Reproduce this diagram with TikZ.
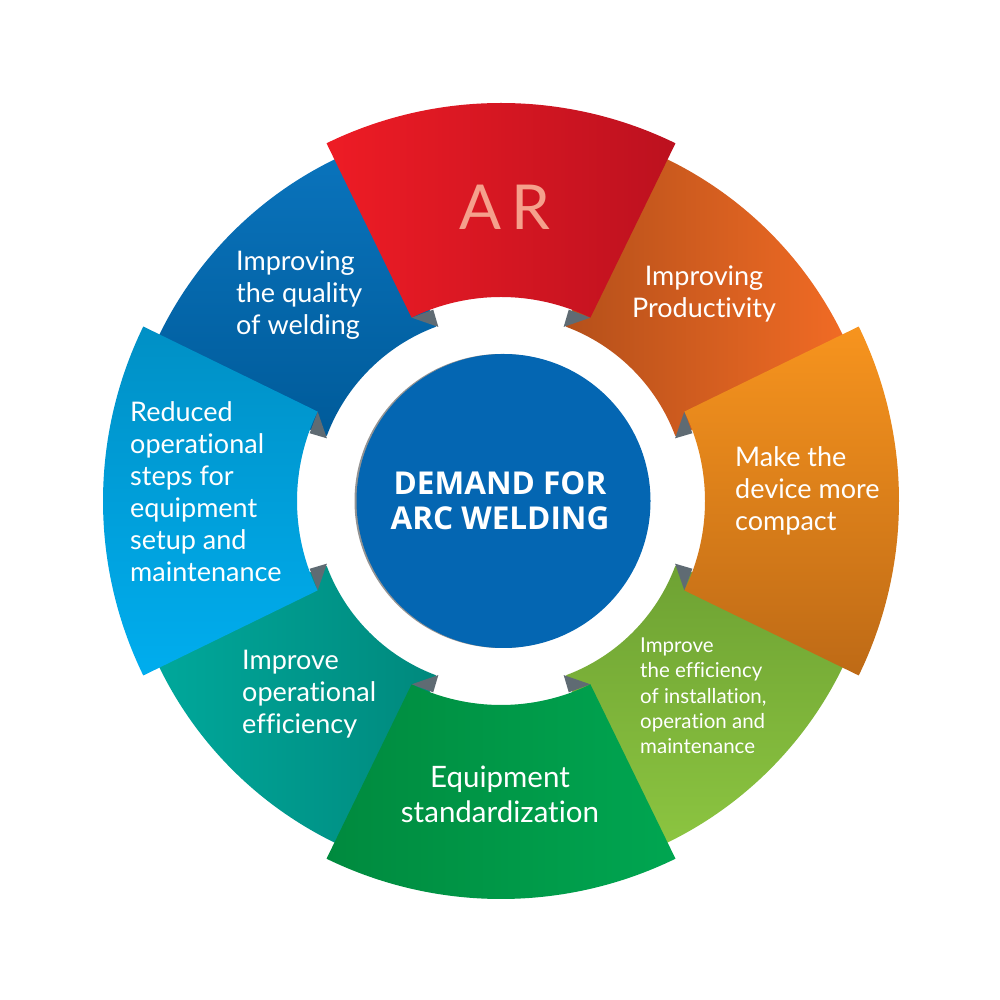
\documentclass[tikz,border=0pt]{standalone}
\usepackage{fontspec}
\setmainfont{Lato}[Ligatures={NoCommon}]
\newfontfamily\ctrfont{Open Sans}
\definecolor{arL}{RGB}{238,28,37}
\definecolor{arR}{RGB}{188,17,31}
\definecolor{arT}{RGB}{245,160,140}
\definecolor{prL}{RGB}{181,80,26}
\definecolor{prR}{RGB}{243,108,37}
\definecolor{cpT}{RGB}{247,148,30}
\definecolor{cpB}{RGB}{190,106,22}
\definecolor{efT}{RGB}{110,162,51}
\definecolor{efB}{RGB}{141,198,65}
\definecolor{eqL}{RGB}{0,138,62}
\definecolor{eqR}{RGB}{0,166,81}
\definecolor{opL}{RGB}{0,169,156}
\definecolor{opR}{RGB}{0,137,125}
\definecolor{rdT}{RGB}{0,144,197}
\definecolor{rdB}{RGB}{0,173,238}
\definecolor{qlT}{RGB}{10,116,189}
\definecolor{qlB}{RGB}{0,91,154}
\definecolor{ctr}{RGB}{4,102,178}
\definecolor{fold}{RGB}{95,107,115}
\begin{document}
\begin{tikzpicture}[x=1pt,y=1pt,
  lbl/.style={text=white,inner sep=0pt,font=\fontsize{27}{32}\selectfont},
  lblL/.style={lbl,anchor=west,align=left},
  lblC/.style={lbl,align=center}]
\useasboundingbox (0,0) rectangle (1000,1000);
\fill[white] (0,0) rectangle (1000,1000);
\begin{scope}[shift={(501,499)}]
  % regular segments
  \shade[left color=prL,right color=prR]
    (20.5:380) arc[start angle=20.5,end angle=69.5,radius=380]
    -- (69.5:186) arc[start angle=69.5,end angle=20.5,radius=186] -- cycle;
  \shade[top color=qlT,bottom color=qlB]
    (110.5:380) arc[start angle=110.5,end angle=159.5,radius=380]
    -- (159.5:186) arc[start angle=159.5,end angle=110.5,radius=186] -- cycle;
  \shade[left color=opL,right color=opR]
    (200.5:380) arc[start angle=200.5,end angle=249.5,radius=380]
    -- (249.5:186) arc[start angle=249.5,end angle=200.5,radius=186] -- cycle;
  \shade[top color=efT,bottom color=efB]
    (290.5:380) arc[start angle=290.5,end angle=339.5,radius=380]
    -- (339.5:186) arc[start angle=339.5,end angle=290.5,radius=186] -- cycle;
  % fold triangles
  \foreach \a in {0,90,180,270}{
    \fill[fold] (\a+26:204) -- (\a+19.5:203) -- (\a+19.8:185) -- cycle;
    \fill[fold] (\a-26:204) -- (\a-19.5:203) -- (\a-19.8:185) -- cycle;
  }
  % popped segments
  \shade[left color=arL,right color=arR]
    (64:398) arc[start angle=64,end angle=116,radius=398]
    -- (116:204) arc[start angle=116,end angle=64,radius=204] -- cycle;
  \shade[top color=cpT,bottom color=cpB]
    (-26:398) arc[start angle=-26,end angle=26,radius=398]
    -- (26:204) arc[start angle=26,end angle=-26,radius=204] -- cycle;
  \shade[left color=eqL,right color=eqR]
    (244:398) arc[start angle=244,end angle=296,radius=398]
    -- (296:204) arc[start angle=296,end angle=244,radius=204] -- cycle;
  \shade[top color=rdT,bottom color=rdB]
    (154:398) arc[start angle=154,end angle=206,radius=398]
    -- (206:204) arc[start angle=206,end angle=154,radius=204] -- cycle;
  % centre
  \fill[black!70,opacity=0.6] (0.5,0) circle[radius=147];
  \fill[ctr] (2.5,0) circle[radius=147];
\end{scope}
% labels
\node[text=arT,inner sep=0pt,font=\fontsize{62}{62}\selectfont] (ar) at (505,793) {A\hspace{10pt}R};
\node[lblC] (prod) at (704,706) {Improving\\Productivity};
\node[lblL] (qual) at (236,705) {Improving\\the quality\\of welding};
\node[lblL] (red) at (130,508) {Reduced\\operational\\steps for\\equipment\\setup and\\maintenance};
\node[lblL] (comp) at (735,509) {Make the\\device more\\compact};
\node[lblL,font=\fontsize{20.5}{25.3}\selectfont] (eff) at (640,304) {Improve\\the efficiency\\of installation,\\operation and\\maintenance};
\node[lblC,font=\fontsize{29.5}{35}\selectfont] (std) at (500,206) {Equipment\\standardization};
\node[lblL] (oper) at (242,306) {Improve\\operational\\efficiency};
\node[text=white,inner sep=0pt,align=center,font=\ctrfont\bfseries\fontsize{31.5}{35}\selectfont] (dem) at (500,499) {DEMAND FOR\\ARC WELDING};
\end{tikzpicture}
\end{document}
